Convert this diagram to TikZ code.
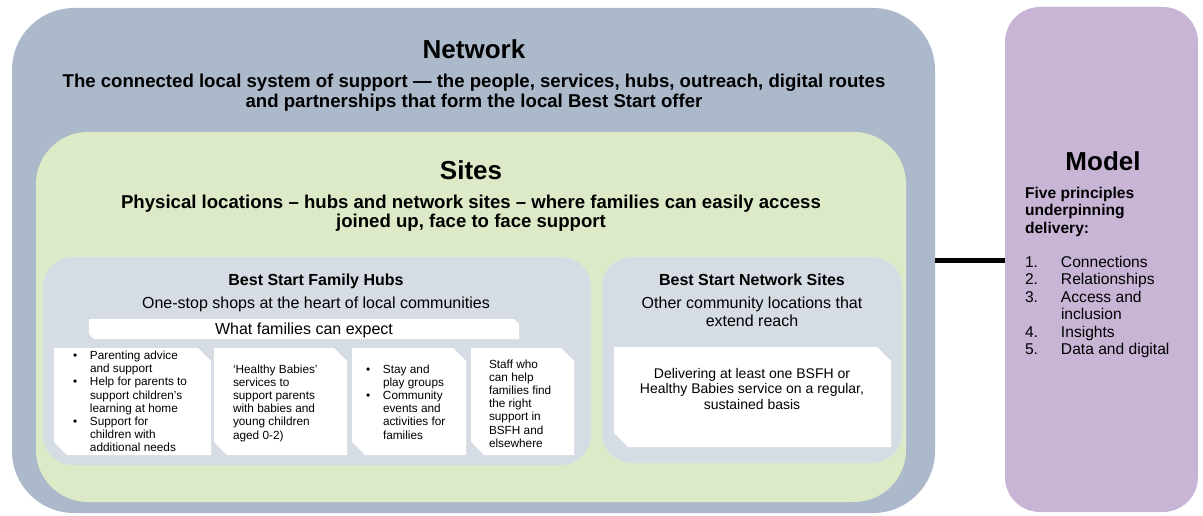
\documentclass[tikz,border=0pt]{standalone}
\usepackage{fontspec}
\setmainfont{Liberation Sans}
\definecolor{netcol}{RGB}{172,185,202}
\definecolor{sitecol}{RGB}{221,234,199}
\definecolor{hubcol}{RGB}{214,220,228}
\definecolor{modelcol}{RGB}{200,181,214}
\newcommand\chamfbox[2]{\fill[white] (#1.north west) -- ([xshift=-#2]#1.north east) -- ([yshift=-#2]#1.north east) -- (#1.south east) -- ([xshift=#2]#1.south west) -- ([yshift=#2]#1.south west) -- cycle;}
\begin{document}
\begin{tikzpicture}[x=1pt,y=-1pt,
  panel/.style={inner sep=0pt, outer sep=0pt, anchor=north west},
  txt/.style={inner sep=0pt, outer sep=0pt},
  title/.style={txt, anchor=base, font=\fontsize{26}{30}\selectfont\bfseries},
  desc/.style={txt, anchor=base, font=\fontsize{18.6}{20}\selectfont\bfseries},
  subtitle/.style={txt, anchor=base, font=\fontsize{16}{18}\selectfont\bfseries},
  subdesc/.style={txt, anchor=base, font=\fontsize{16}{18}\selectfont},
  small/.style={txt, anchor=base west, font=\fontsize{11.8}{13.2}\selectfont},
  modeltxt/.style={txt, anchor=base west, font=\fontsize{15.6}{17.4}\selectfont},
]
\useasboundingbox (0,0) rectangle (1203,516);
% panels
\node[panel, fill=netcol, rounded corners=62pt, minimum width=923, minimum height=505] (network) at (12,8) {};
\node[panel, fill=sitecol, rounded corners=52pt, minimum width=870, minimum height=370] (sites) at (36,132) {};
\node[panel, fill=hubcol, rounded corners=30pt, minimum width=548, minimum height=208] (hubs) at (43,257) {};
\node[panel, fill=hubcol, rounded corners=30pt, minimum width=300, minimum height=206] (nsites) at (602,257) {};
\node[panel, fill=modelcol, rounded corners=35pt, minimum width=193, minimum height=505] (model) at (1005,7) {};
% connector
\draw[line width=5pt] (network.east) -- (network.east -| model.west);
% white boxes
\node[panel, minimum width=430, minimum height=20] (bar) at (89,319) {};
\node[panel, minimum width=157, minimum height=107] (b1) at (54,348) {};
\node[panel, minimum width=133, minimum height=107] (b2) at (214,348) {};
\node[panel, minimum width=114, minimum height=107] (b3) at (352,348) {};
\node[panel, minimum width=103, minimum height=107] (b4) at (471,348) {};
\node[panel, minimum width=277, minimum height=100] (nsbox) at (614,347) {};
\chamfbox{bar}{5pt}
\chamfbox{b1}{13pt}
\chamfbox{b2}{13pt}
\chamfbox{b3}{13pt}
\chamfbox{b4}{13pt}
\chamfbox{nsbox}{14pt}
% network texts
\node[title] (nettitle) at (474,59) {Network};
\node[desc] (netdesc) at (474,88) {\begin{tabular}[t]{@{}c@{}}The connected local system of support — the people, services, hubs, outreach, digital routes\\and partnerships that form the local Best Start offer\end{tabular}};
% sites texts
\node[title] (sitestitle) at (471,179) {Sites};
\node[desc] (sitesdesc) at (471,208) {\begin{tabular}[t]{@{}c@{}}Physical locations – hubs and network sites – where families can easily access\\joined up, face to face support\end{tabular}};
% hubs texts
\node[subtitle] (hubstitle) at (316,285) {Best Start Family Hubs};
\node[subdesc] (hubsdesc) at (316,308) {One-stop shops at the heart of local communities};
\node[subdesc] (bartext) at (304,334) {What families can expect};
\node[small] (t1) at (73,359.5) {\begin{tabular}[t]{@{}p{17pt}@{}l@{}}\textbullet & Parenting advice\\ & and support\\ \textbullet & Help for parents to\\ & support children’s\\ & learning at home\\ \textbullet & Support for\\ & children with\\ & additional needs\end{tabular}};
\node[small] (t2) at (233,373) {\begin{tabular}[t]{@{}l@{}}‘Healthy Babies’\\services to\\support parents\\with babies and\\young children\\aged 0-2)\end{tabular}};
\node[small] (t3) at (366,373) {\begin{tabular}[t]{@{}p{17pt}@{}l@{}}\textbullet & Stay and\\ & play groups\\ \textbullet & Community\\ & events and\\ & activities for\\ & families\end{tabular}};
\node[small] (t4) at (489,368) {\begin{tabular}[t]{@{}l@{}}Staff who\\can help\\families find\\the right\\support in\\BSFH and\\elsewhere\end{tabular}};
% network sites texts
\node[subtitle] (nstitle) at (752,285) {Best Start Network Sites};
\node[subdesc] (nsdesc) at (752,308) {\begin{tabular}[t]{@{}c@{}}Other community locations that\\extend reach\end{tabular}};
\node[txt, anchor=base, font=\fontsize{14}{15.5}\selectfont] (nsboxtext) at (752,378) {\begin{tabular}[t]{@{}c@{}}Delivering at least one BSFH or\\Healthy Babies service on a regular,\\sustained basis\end{tabular}};
% model texts
\node[title] (modeltitle) at (1103,171) {Model};
\node[modeltxt, font=\fontsize{15.6}{17.6}\selectfont\bfseries] (modeldesc) at (1025,198) {\begin{tabular}[t]{@{}l@{}}Five principles\\underpinning\\delivery:\end{tabular}};
\node[modeltxt] (modellist) at (1025,267.5) {\begin{tabular}[t]{@{}p{36pt}@{}l@{}}1. & Connections\\2. & Relationships\\3. & Access and\\ & inclusion\\4. & Insights\\5. & Data and digital\end{tabular}};
\end{tikzpicture}
\end{document}
